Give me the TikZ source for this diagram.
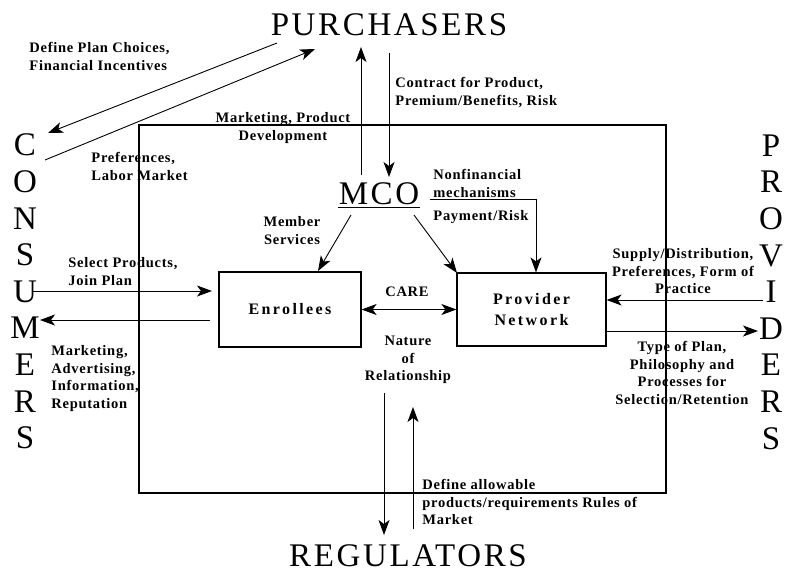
\documentclass[tikz,border=0pt]{standalone}
\usepackage{fontspec}
\setmainfont{Liberation Serif}
\newfontfamily\lblfam[LetterSpace=5]{Liberation Serif}
\newfontfamily\capfam[LetterSpace=8]{Liberation Serif}
\newfontfamily\boxfam[LetterSpace=15]{Liberation Serif}
\newcommand{\lblfont}{\lblfam\bfseries\fontsize{14.5}{17.5}\selectfont}
\newcommand{\capfont}{\capfam\fontsize{33}{36.6}\selectfont}
\newcommand{\boxfont}{\boxfam\bfseries\fontsize{16}{21}\selectfont}
\usetikzlibrary{arrows.meta}
\begin{document}
\begin{tikzpicture}[x=1pt, y=-1pt, line width=0.9pt,
    >={Stealth[length=15pt,width=11pt,inset=4pt]},
    lbl/.style={font=\lblfont, inner sep=0pt},
    party/.style={font=\capfont, inner sep=0pt},
    unit/.style={draw, line width=1.2pt, font=\boxfont, align=center, inner sep=0pt}]
  \useasboundingbox (0,0) rectangle (785,574);
  % market frame
  \node[draw, line width=2pt, minimum width=527pt, minimum height=368pt, inner sep=0pt] (mkt) at (402.5,309) {};
  % parties
  \node[party, anchor=base] (purch) at (389,35) {PURCHASERS};
  \node[party, anchor=base] (reg) at (408,566) {REGULATORS};
  \node[party, align=center] (cons) at (25,291.5) {C\\O\\N\\S\\U\\M\\E\\R\\S};
  \node[party, align=center] (provs) at (771,292) {P\\R\\O\\V\\I\\D\\E\\R\\S};
  \node[party, anchor=base] (mco) at (379,204) {MCO};
  \draw[line width=1.3pt] ([yshift=-3pt]mco.south west) -- ([yshift=-3pt]mco.south east);
  \node[unit, minimum width=142pt, minimum height=75pt] (enr) at (290,309.5) {Enrollees};
  \node[unit, minimum width=149pt, minimum height=73pt] (prov) at (531.5,309.5) {Provider\\Network};
  % labels
  \node[lbl, anchor=north west, align=left] (lplan) at (29,42) {Define Plan Choices,\\Financial Incentives};
  \node[lbl, anchor=north west, align=left] (lpref) at (91,152) {Preferences,\\Labor Market};
  \node[lbl, anchor=north, align=center] (lmkt) at (283,112) {Marketing, Product\\Development};
  \node[lbl, anchor=north west, align=left] (lcontr) at (395,77) {Contract for Product,\\Premium/Benefits, Risk};
  \node[lbl, anchor=north west, align=left] (lnonf) at (433,169) {Nonfinancial\\mechanisms};
  \node[lbl, anchor=north west] (lpay) at (433,210) {Payment/Risk};
  \node[lbl, anchor=north, align=center] (lmemb) at (292,216) {Member\\Services};
  \node[lbl] (lcare) at (407,292) {CARE};
  \node[lbl, anchor=north, align=center] (lnat) at (408,336) {Nature\\of\\Relationship};
  \node[lbl, anchor=north west, align=left] (lsel) at (68,257) {Select Products,\\Join Plan};
  \node[lbl, anchor=north west, align=left] (ladv) at (51,345) {Marketing,\\Advertising,\\Information,\\Reputation};
  \node[lbl, anchor=north, align=center] (lsup) at (683,248) {Supply/Distribution,\\Preferences, Form of\\Practice};
  \node[lbl, anchor=north, align=center] (ltype) at (682,341) {Type of Plan,\\Philosophy and\\Processes for\\Selection/Retention};
  \node[lbl, anchor=north west, align=left] (lrule) at (422,479) {Define allowable\\products/requirements Rules of\\Market};
  % arrow ends
  \coordinate (dpA) at (277,43);  \coordinate (dpB) at (48,133);
  \coordinate (lmA) at (45,160);  \coordinate (lmB) at (315,49);
  \coordinate (mkA) at (361,175); \coordinate (mkB) at (361,47);
  \coordinate (ctA) at (389,53);  \coordinate (ctB) at (389,177);
  \coordinate (msA) at (351,215); \coordinate (msB) at (318,271);
  \coordinate (pyA) at (414,215); \coordinate (pyB) at (457,273);
  \coordinate (nfA) at (430,199); \coordinate (nfB) at (536,199);
  \coordinate (spA) at (33,291);  \coordinate (spB) at (212,291);
  \coordinate (adA) at (210,320); \coordinate (adB) at (40,320);
  \coordinate (suA) at (763,300); \coordinate (tyB) at (758,331);
  \coordinate (rgA) at (384,393); \coordinate (rgB) at (384,535);
  \coordinate (rdA) at (413,529); \coordinate (rdB) at (413,407);
  \begin{scope}[->]
    \draw (dpA) -- (dpB);
    \draw (lmA) -- (lmB);
    \draw (mkA) -- (mkB);
    \draw (ctA) -- (ctB);
    \draw (msA) -- (msB);
    \draw (pyA) -- (pyB);
    \draw (nfA) -- (nfB) -- (nfB |- prov.north);
    \draw[<->] (enr.east) -- (prov.west);
    \draw (spA) -- (spB);
    \draw (adA) -- (adB);
    \draw (suA) -- (prov.east |- suA);
    \draw (prov.east |- tyB) -- (tyB);
    \draw (rgA) -- (rgB);
    \draw (rdA) -- (rdB);
  \end{scope}
\end{tikzpicture}
\end{document}
